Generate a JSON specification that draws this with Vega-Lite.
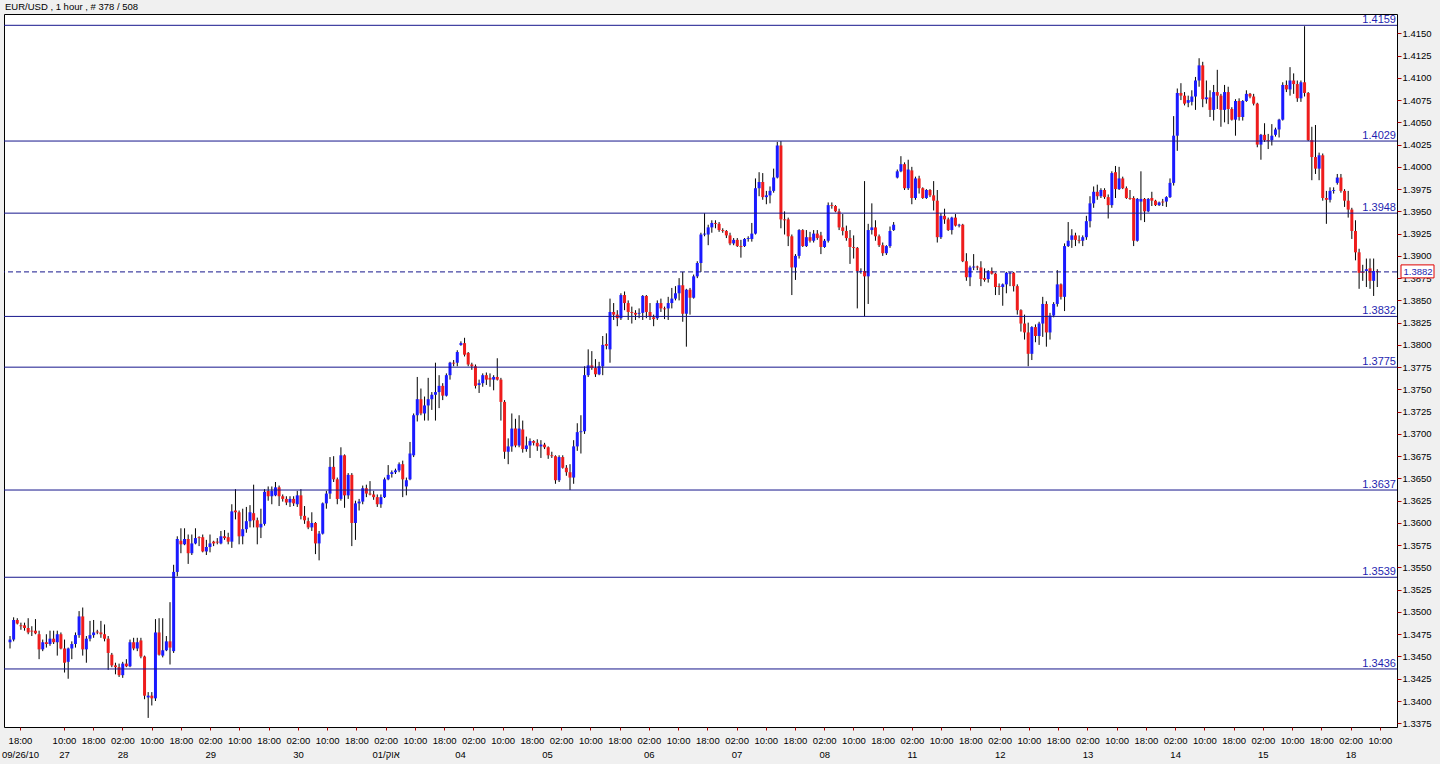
{
"$schema": "https://vega.github.io/schema/vega-lite/v6.json",
"width": 1393, "height": 713,
"autosize": {"type": "none"},
"padding": {"left": 4, "top": 14, "right": 43, "bottom": 37},
"background": "#f0f0f0",
"config": {"view": {"fill": "white", "stroke": "black", "strokeWidth": 1}, "font": "Liberation Sans"},
"resolve": {"axis": {"x": "independent", "y": "independent"}},
"datasets": {
"header": [{"title": "EUR/USD , 1 hour , # 378 / 508"}],
"levels": [{"level":1.4159,"label":"1.4159"},{"level":1.4029,"label":"1.4029"},{"level":1.3948,"label":"1.3948"},{"level":1.3832,"label":"1.3832"},{"level":1.3775,"label":"1.3775"},{"level":1.3637,"label":"1.3637"},{"level":1.3539,"label":"1.3539"},{"level":1.3436,"label":"1.3436"}],
"current": [{"p":1.3882}],
"candles": [
{"i":0,"o":1.3466,"h":1.3473,"l":1.3459,"c":1.3469},
{"i":1,"o":1.3469,"h":1.3494,"l":1.3467,"c":1.3491},
{"i":2,"o":1.3491,"h":1.3493,"l":1.3486,"c":1.3487},
{"i":3,"o":1.3485,"h":1.3488,"l":1.3480,"c":1.3484},
{"i":4,"o":1.3485,"h":1.3488,"l":1.3479,"c":1.3482},
{"i":5,"o":1.3482,"h":1.3493,"l":1.3475,"c":1.3477},
{"i":6,"o":1.3479,"h":1.3484,"l":1.3473,"c":1.3478},
{"i":7,"o":1.3479,"h":1.3492,"l":1.3475,"c":1.3476},
{"i":8,"o":1.3475,"h":1.3479,"l":1.3447,"c":1.3458},
{"i":9,"o":1.3458,"h":1.3469,"l":1.3456,"c":1.3466},
{"i":10,"o":1.3466,"h":1.3475,"l":1.3460,"c":1.3464},
{"i":11,"o":1.3464,"h":1.3479,"l":1.3462,"c":1.3470},
{"i":12,"o":1.3470,"h":1.3479,"l":1.3464,"c":1.3466},
{"i":13,"o":1.3466,"h":1.3479,"l":1.3451,"c":1.3475},
{"i":14,"o":1.3475,"h":1.3477,"l":1.3458,"c":1.3459},
{"i":15,"o":1.3459,"h":1.3469,"l":1.3432,"c":1.3443},
{"i":16,"o":1.3444,"h":1.3460,"l":1.3425,"c":1.3459},
{"i":17,"o":1.3459,"h":1.3467,"l":1.3447,"c":1.3464},
{"i":18,"o":1.3464,"h":1.3477,"l":1.3460,"c":1.3474},
{"i":19,"o":1.3474,"h":1.3501,"l":1.3471,"c":1.3495},
{"i":20,"o":1.3495,"h":1.3505,"l":1.3451,"c":1.3458},
{"i":21,"o":1.3458,"h":1.3473,"l":1.3443,"c":1.3470},
{"i":22,"o":1.3470,"h":1.3490,"l":1.3467,"c":1.3474},
{"i":23,"o":1.3474,"h":1.3491,"l":1.3471,"c":1.3477},
{"i":24,"o":1.3478,"h":1.3480,"l":1.3475,"c":1.3477},
{"i":25,"o":1.3477,"h":1.3490,"l":1.3471,"c":1.3475},
{"i":26,"o":1.3475,"h":1.3486,"l":1.3467,"c":1.3470},
{"i":27,"o":1.3470,"h":1.3473,"l":1.3435,"c":1.3454},
{"i":28,"o":1.3452,"h":1.3454,"l":1.3438,"c":1.3440},
{"i":29,"o":1.3440,"h":1.3443,"l":1.3430,"c":1.3438},
{"i":30,"o":1.3438,"h":1.3442,"l":1.3427,"c":1.3429},
{"i":31,"o":1.3429,"h":1.3444,"l":1.3426,"c":1.3442},
{"i":32,"o":1.3442,"h":1.3447,"l":1.3438,"c":1.3439},
{"i":33,"o":1.3439,"h":1.3469,"l":1.3438,"c":1.3466},
{"i":34,"o":1.3466,"h":1.3471,"l":1.3457,"c":1.3459},
{"i":35,"o":1.3459,"h":1.3471,"l":1.3456,"c":1.3466},
{"i":36,"o":1.3468,"h":1.3471,"l":1.3448,"c":1.3450},
{"i":37,"o":1.3450,"h":1.3451,"l":1.3402,"c":1.3406},
{"i":38,"o":1.3404,"h":1.3410,"l":1.3381,"c":1.3406},
{"i":39,"o":1.3406,"h":1.3410,"l":1.3395,"c":1.3403},
{"i":40,"o":1.3403,"h":1.3492,"l":1.3400,"c":1.3477},
{"i":41,"o":1.3477,"h":1.3493,"l":1.3451,"c":1.3452},
{"i":42,"o":1.3451,"h":1.3493,"l":1.3449,"c":1.3457},
{"i":43,"o":1.3457,"h":1.3473,"l":1.3456,"c":1.3467},
{"i":44,"o":1.3467,"h":1.3511,"l":1.3441,"c":1.3460},
{"i":45,"o":1.3456,"h":1.3553,"l":1.3454,"c":1.3545},
{"i":46,"o":1.3545,"h":1.3585,"l":1.3540,"c":1.3582},
{"i":47,"o":1.3580,"h":1.3594,"l":1.3566,"c":1.3576},
{"i":48,"o":1.3576,"h":1.3594,"l":1.3575,"c":1.3582},
{"i":49,"o":1.3582,"h":1.3587,"l":1.3554,"c":1.3566},
{"i":50,"o":1.3566,"h":1.3587,"l":1.3564,"c":1.3577},
{"i":51,"o":1.3577,"h":1.3594,"l":1.3576,"c":1.3583},
{"i":52,"o":1.3584,"h":1.3585,"l":1.3574,"c":1.3583},
{"i":53,"o":1.3584,"h":1.3587,"l":1.3567,"c":1.3568},
{"i":54,"o":1.3568,"h":1.3581,"l":1.3564,"c":1.3573},
{"i":55,"o":1.3573,"h":1.3587,"l":1.3567,"c":1.3577},
{"i":56,"o":1.3579,"h":1.3580,"l":1.3574,"c":1.3577},
{"i":57,"o":1.3579,"h":1.3583,"l":1.3576,"c":1.3578},
{"i":58,"o":1.3577,"h":1.3591,"l":1.3576,"c":1.3585},
{"i":59,"o":1.3585,"h":1.3592,"l":1.3581,"c":1.3583},
{"i":60,"o":1.3584,"h":1.3589,"l":1.3576,"c":1.3579},
{"i":61,"o":1.3579,"h":1.3621,"l":1.3572,"c":1.3613},
{"i":62,"o":1.3614,"h":1.3638,"l":1.3604,"c":1.3612},
{"i":63,"o":1.3612,"h":1.3614,"l":1.3576,"c":1.3585},
{"i":64,"o":1.3585,"h":1.3616,"l":1.3576,"c":1.3593},
{"i":65,"o":1.3593,"h":1.3618,"l":1.3589,"c":1.3602},
{"i":66,"o":1.3602,"h":1.3620,"l":1.3595,"c":1.3612},
{"i":67,"o":1.3611,"h":1.3643,"l":1.3595,"c":1.3603},
{"i":68,"o":1.3603,"h":1.3606,"l":1.3576,"c":1.3595},
{"i":69,"o":1.3595,"h":1.3616,"l":1.3583,"c":1.3599},
{"i":70,"o":1.3599,"h":1.3638,"l":1.3597,"c":1.3635},
{"i":71,"o":1.3636,"h":1.3641,"l":1.3625,"c":1.3630},
{"i":72,"o":1.3630,"h":1.3641,"l":1.3621,"c":1.3636},
{"i":73,"o":1.3631,"h":1.3646,"l":1.3630,"c":1.3640},
{"i":74,"o":1.3640,"h":1.3642,"l":1.3619,"c":1.3630},
{"i":75,"o":1.3630,"h":1.3632,"l":1.3624,"c":1.3627},
{"i":76,"o":1.3627,"h":1.3630,"l":1.3620,"c":1.3623},
{"i":77,"o":1.3623,"h":1.3630,"l":1.3618,"c":1.3627},
{"i":78,"o":1.3627,"h":1.3630,"l":1.3619,"c":1.3622},
{"i":79,"o":1.3621,"h":1.3636,"l":1.3618,"c":1.3631},
{"i":80,"o":1.3631,"h":1.3638,"l":1.3604,"c":1.3608},
{"i":81,"o":1.3608,"h":1.3619,"l":1.3599,"c":1.3603},
{"i":82,"o":1.3602,"h":1.3606,"l":1.3593,"c":1.3595},
{"i":83,"o":1.3595,"h":1.3612,"l":1.3591,"c":1.3600},
{"i":84,"o":1.3600,"h":1.3601,"l":1.3565,"c":1.3577},
{"i":85,"o":1.3577,"h":1.3591,"l":1.3558,"c":1.3588},
{"i":86,"o":1.3588,"h":1.3623,"l":1.3587,"c":1.3622},
{"i":87,"o":1.3622,"h":1.3636,"l":1.3616,"c":1.3633},
{"i":88,"o":1.3633,"h":1.3674,"l":1.3627,"c":1.3663},
{"i":89,"o":1.3663,"h":1.3675,"l":1.3646,"c":1.3649},
{"i":90,"o":1.3649,"h":1.3651,"l":1.3621,"c":1.3627},
{"i":91,"o":1.3627,"h":1.3685,"l":1.3625,"c":1.3676},
{"i":92,"o":1.3676,"h":1.3677,"l":1.3617,"c":1.3631},
{"i":93,"o":1.3631,"h":1.3656,"l":1.3627,"c":1.3654},
{"i":94,"o":1.3654,"h":1.3656,"l":1.3574,"c":1.3600},
{"i":95,"o":1.3600,"h":1.3625,"l":1.3581,"c":1.3622},
{"i":96,"o":1.3622,"h":1.3627,"l":1.3614,"c":1.3624},
{"i":97,"o":1.3624,"h":1.3642,"l":1.3621,"c":1.3639},
{"i":98,"o":1.3639,"h":1.3643,"l":1.3629,"c":1.3633},
{"i":99,"o":1.3633,"h":1.3647,"l":1.3631,"c":1.3632},
{"i":100,"o":1.3632,"h":1.3636,"l":1.3626,"c":1.3629},
{"i":101,"o":1.3629,"h":1.3632,"l":1.3618,"c":1.3621},
{"i":102,"o":1.3621,"h":1.3632,"l":1.3617,"c":1.3629},
{"i":103,"o":1.3629,"h":1.3651,"l":1.3628,"c":1.3649},
{"i":104,"o":1.3649,"h":1.3665,"l":1.3648,"c":1.3654},
{"i":105,"o":1.3655,"h":1.3659,"l":1.3651,"c":1.3657},
{"i":106,"o":1.3657,"h":1.3661,"l":1.3655,"c":1.3659},
{"i":107,"o":1.3659,"h":1.3668,"l":1.3657,"c":1.3666},
{"i":108,"o":1.3666,"h":1.3670,"l":1.3629,"c":1.3649},
{"i":109,"o":1.3641,"h":1.3651,"l":1.3631,"c":1.3648},
{"i":110,"o":1.3649,"h":1.3691,"l":1.3648,"c":1.3678},
{"i":111,"o":1.3676,"h":1.3723,"l":1.3674,"c":1.3721},
{"i":112,"o":1.3721,"h":1.3764,"l":1.3714,"c":1.3739},
{"i":113,"o":1.3739,"h":1.3751,"l":1.3721,"c":1.3723},
{"i":114,"o":1.3723,"h":1.3742,"l":1.3715,"c":1.3732},
{"i":115,"o":1.3732,"h":1.3763,"l":1.3715,"c":1.3739},
{"i":116,"o":1.3739,"h":1.3747,"l":1.3727,"c":1.3744},
{"i":117,"o":1.3744,"h":1.3780,"l":1.3715,"c":1.3747},
{"i":118,"o":1.3747,"h":1.3766,"l":1.3729,"c":1.3754},
{"i":119,"o":1.3754,"h":1.3757,"l":1.3738,"c":1.3743},
{"i":120,"o":1.3743,"h":1.3768,"l":1.3742,"c":1.3766},
{"i":121,"o":1.3766,"h":1.3781,"l":1.3761,"c":1.3780},
{"i":122,"o":1.3780,"h":1.3783,"l":1.3776,"c":1.3779},
{"i":123,"o":1.3780,"h":1.3794,"l":1.3776,"c":1.3792},
{"i":124,"o":1.3800,"h":1.3804,"l":1.3799,"c":1.3802},
{"i":125,"o":1.3802,"h":1.3808,"l":1.3787,"c":1.3789},
{"i":126,"o":1.3791,"h":1.3792,"l":1.3776,"c":1.3778},
{"i":127,"o":1.3778,"h":1.3780,"l":1.3772,"c":1.3776},
{"i":128,"o":1.3776,"h":1.3778,"l":1.3751,"c":1.3754},
{"i":129,"o":1.3755,"h":1.3761,"l":1.3746,"c":1.3757},
{"i":130,"o":1.3757,"h":1.3768,"l":1.3753,"c":1.3766},
{"i":131,"o":1.3766,"h":1.3769,"l":1.3755,"c":1.3761},
{"i":132,"o":1.3763,"h":1.3768,"l":1.3753,"c":1.3761},
{"i":133,"o":1.3761,"h":1.3766,"l":1.3749,"c":1.3764},
{"i":134,"o":1.3764,"h":1.3785,"l":1.3760,"c":1.3761},
{"i":135,"o":1.3761,"h":1.3763,"l":1.3715,"c":1.3736},
{"i":136,"o":1.3736,"h":1.3738,"l":1.3672,"c":1.3680},
{"i":137,"o":1.3680,"h":1.3695,"l":1.3666,"c":1.3686},
{"i":138,"o":1.3686,"h":1.3723,"l":1.3680,"c":1.3706},
{"i":139,"o":1.3706,"h":1.3717,"l":1.3685,"c":1.3687},
{"i":140,"o":1.3687,"h":1.3721,"l":1.3685,"c":1.3706},
{"i":141,"o":1.3705,"h":1.3715,"l":1.3679,"c":1.3683},
{"i":142,"o":1.3683,"h":1.3697,"l":1.3680,"c":1.3687},
{"i":143,"o":1.3687,"h":1.3695,"l":1.3673,"c":1.3692},
{"i":144,"o":1.3692,"h":1.3693,"l":1.3687,"c":1.3690},
{"i":145,"o":1.3690,"h":1.3694,"l":1.3681,"c":1.3686},
{"i":146,"o":1.3686,"h":1.3693,"l":1.3673,"c":1.3688},
{"i":147,"o":1.3688,"h":1.3690,"l":1.3683,"c":1.3685},
{"i":148,"o":1.3685,"h":1.3686,"l":1.3672,"c":1.3676},
{"i":149,"o":1.3676,"h":1.3680,"l":1.3673,"c":1.3675},
{"i":150,"o":1.3675,"h":1.3676,"l":1.3644,"c":1.3648},
{"i":151,"o":1.3648,"h":1.3676,"l":1.3646,"c":1.3674},
{"i":152,"o":1.3674,"h":1.3676,"l":1.3661,"c":1.3662},
{"i":153,"o":1.3662,"h":1.3665,"l":1.3653,"c":1.3657},
{"i":154,"o":1.3657,"h":1.3666,"l":1.3637,"c":1.3651},
{"i":155,"o":1.3651,"h":1.3693,"l":1.3644,"c":1.3686},
{"i":156,"o":1.3686,"h":1.3712,"l":1.3681,"c":1.3702},
{"i":157,"o":1.3702,"h":1.3721,"l":1.3678,"c":1.3703},
{"i":158,"o":1.3703,"h":1.3776,"l":1.3700,"c":1.3766},
{"i":159,"o":1.3766,"h":1.3795,"l":1.3764,"c":1.3777},
{"i":160,"o":1.3777,"h":1.3793,"l":1.3772,"c":1.3774},
{"i":161,"o":1.3774,"h":1.3784,"l":1.3764,"c":1.3767},
{"i":162,"o":1.3767,"h":1.3781,"l":1.3766,"c":1.3776},
{"i":163,"o":1.3776,"h":1.3810,"l":1.3766,"c":1.3800},
{"i":164,"o":1.3801,"h":1.3813,"l":1.3795,"c":1.3799},
{"i":165,"o":1.3795,"h":1.3852,"l":1.3780,"c":1.3837},
{"i":166,"o":1.3837,"h":1.3847,"l":1.3828,"c":1.3834},
{"i":167,"o":1.3834,"h":1.3839,"l":1.3821,"c":1.3830},
{"i":168,"o":1.3830,"h":1.3858,"l":1.3828,"c":1.3856},
{"i":169,"o":1.3856,"h":1.3860,"l":1.3839,"c":1.3847},
{"i":170,"o":1.3847,"h":1.3850,"l":1.3828,"c":1.3837},
{"i":171,"o":1.3837,"h":1.3843,"l":1.3824,"c":1.3836},
{"i":172,"o":1.3836,"h":1.3839,"l":1.3828,"c":1.3834},
{"i":173,"o":1.3835,"h":1.3841,"l":1.3830,"c":1.3836},
{"i":174,"o":1.3836,"h":1.3856,"l":1.3828,"c":1.3855},
{"i":175,"o":1.3855,"h":1.3856,"l":1.3830,"c":1.3837},
{"i":176,"o":1.3837,"h":1.3847,"l":1.3828,"c":1.3832},
{"i":177,"o":1.3831,"h":1.3834,"l":1.3821,"c":1.3829},
{"i":178,"o":1.3830,"h":1.3850,"l":1.3828,"c":1.3847},
{"i":179,"o":1.3847,"h":1.3852,"l":1.3837,"c":1.3841},
{"i":180,"o":1.3841,"h":1.3843,"l":1.3829,"c":1.3840},
{"i":181,"o":1.3841,"h":1.3854,"l":1.3828,"c":1.3847},
{"i":182,"o":1.3847,"h":1.3864,"l":1.3841,"c":1.3852},
{"i":183,"o":1.3852,"h":1.3866,"l":1.3850,"c":1.3858},
{"i":184,"o":1.3858,"h":1.3875,"l":1.3850,"c":1.3867},
{"i":185,"o":1.3867,"h":1.3882,"l":1.3826,"c":1.3835},
{"i":186,"o":1.3835,"h":1.3863,"l":1.3798,"c":1.3862},
{"i":187,"o":1.3862,"h":1.3864,"l":1.3834,"c":1.3853},
{"i":188,"o":1.3853,"h":1.3879,"l":1.3852,"c":1.3877},
{"i":189,"o":1.3877,"h":1.3894,"l":1.3875,"c":1.3892},
{"i":190,"o":1.3892,"h":1.3926,"l":1.3882,"c":1.3924},
{"i":191,"o":1.3924,"h":1.3948,"l":1.3922,"c":1.3925},
{"i":192,"o":1.3924,"h":1.3935,"l":1.3912,"c":1.3932},
{"i":193,"o":1.3932,"h":1.3940,"l":1.3926,"c":1.3937},
{"i":194,"o":1.3937,"h":1.3940,"l":1.3931,"c":1.3936},
{"i":195,"o":1.3936,"h":1.3938,"l":1.3927,"c":1.3929},
{"i":196,"o":1.3929,"h":1.3931,"l":1.3926,"c":1.3928},
{"i":197,"o":1.3928,"h":1.3929,"l":1.3920,"c":1.3923},
{"i":198,"o":1.3923,"h":1.3926,"l":1.3912,"c":1.3914},
{"i":199,"o":1.3914,"h":1.3920,"l":1.3912,"c":1.3918},
{"i":200,"o":1.3918,"h":1.3920,"l":1.3910,"c":1.3911},
{"i":201,"o":1.3911,"h":1.3918,"l":1.3898,"c":1.3910},
{"i":202,"o":1.3911,"h":1.3920,"l":1.3910,"c":1.3919},
{"i":203,"o":1.3919,"h":1.3922,"l":1.3916,"c":1.3920},
{"i":204,"o":1.3919,"h":1.3937,"l":1.3916,"c":1.3925},
{"i":205,"o":1.3925,"h":1.3987,"l":1.3924,"c":1.3976},
{"i":206,"o":1.3976,"h":1.3994,"l":1.3967,"c":1.3983},
{"i":207,"o":1.3983,"h":1.3993,"l":1.3963,"c":1.3966},
{"i":208,"o":1.3966,"h":1.3973,"l":1.3958,"c":1.3968},
{"i":209,"o":1.3968,"h":1.3978,"l":1.3959,"c":1.3973},
{"i":210,"o":1.3973,"h":1.3998,"l":1.3971,"c":1.3988},
{"i":211,"o":1.3988,"h":1.4028,"l":1.3987,"c":1.4024},
{"i":212,"o":1.4024,"h":1.4029,"l":1.3931,"c":1.3941},
{"i":213,"o":1.3941,"h":1.3950,"l":1.3924,"c":1.3940},
{"i":214,"o":1.3941,"h":1.3943,"l":1.3911,"c":1.3922},
{"i":215,"o":1.3922,"h":1.3924,"l":1.3856,"c":1.3887},
{"i":216,"o":1.3887,"h":1.3902,"l":1.3873,"c":1.3900},
{"i":217,"o":1.3900,"h":1.3930,"l":1.3897,"c":1.3929},
{"i":218,"o":1.3929,"h":1.3930,"l":1.3910,"c":1.3911},
{"i":219,"o":1.3911,"h":1.3929,"l":1.3910,"c":1.3921},
{"i":220,"o":1.3921,"h":1.3927,"l":1.3915,"c":1.3917},
{"i":221,"o":1.3917,"h":1.3929,"l":1.3915,"c":1.3925},
{"i":222,"o":1.3925,"h":1.3929,"l":1.3918,"c":1.3920},
{"i":223,"o":1.3923,"h":1.3927,"l":1.3902,"c":1.3910},
{"i":224,"o":1.3910,"h":1.3919,"l":1.3909,"c":1.3917},
{"i":225,"o":1.3917,"h":1.3960,"l":1.3915,"c":1.3957},
{"i":226,"o":1.3957,"h":1.3960,"l":1.3953,"c":1.3956},
{"i":227,"o":1.3956,"h":1.3957,"l":1.3949,"c":1.3950},
{"i":228,"o":1.3950,"h":1.3953,"l":1.3929,"c":1.3932},
{"i":229,"o":1.3932,"h":1.3947,"l":1.3923,"c":1.3928},
{"i":230,"o":1.3928,"h":1.3934,"l":1.3917,"c":1.3920},
{"i":231,"o":1.3920,"h":1.3929,"l":1.3891,"c":1.3910},
{"i":232,"o":1.3910,"h":1.3923,"l":1.3897,"c":1.3909},
{"i":233,"o":1.3909,"h":1.3910,"l":1.3841,"c":1.3883},
{"i":234,"o":1.3882,"h":1.3886,"l":1.3880,"c":1.3883},
{"i":235,"o":1.3883,"h":1.3984,"l":1.3832,"c":1.3877},
{"i":236,"o":1.3877,"h":1.3936,"l":1.3846,"c":1.3929},
{"i":237,"o":1.3929,"h":1.3959,"l":1.3924,"c":1.3932},
{"i":238,"o":1.3932,"h":1.3940,"l":1.3917,"c":1.3922},
{"i":239,"o":1.3922,"h":1.3924,"l":1.3910,"c":1.3912},
{"i":240,"o":1.3912,"h":1.3915,"l":1.3900,"c":1.3903},
{"i":241,"o":1.3903,"h":1.3912,"l":1.3901,"c":1.3911},
{"i":242,"o":1.3911,"h":1.3933,"l":1.3909,"c":1.3928},
{"i":243,"o":1.3929,"h":1.3938,"l":1.3928,"c":1.3935},
{"i":244,"o":1.3988,"h":1.3997,"l":1.3987,"c":1.3995},
{"i":245,"o":1.3995,"h":1.4012,"l":1.3994,"c":1.4003},
{"i":246,"o":1.4003,"h":1.4005,"l":1.3974,"c":1.3976},
{"i":247,"o":1.3976,"h":1.4008,"l":1.3974,"c":1.3997},
{"i":248,"o":1.3996,"h":1.4000,"l":1.3958,"c":1.3965},
{"i":249,"o":1.3965,"h":1.3989,"l":1.3963,"c":1.3987},
{"i":250,"o":1.3987,"h":1.3990,"l":1.3970,"c":1.3976},
{"i":251,"o":1.3976,"h":1.3977,"l":1.3964,"c":1.3965},
{"i":252,"o":1.3965,"h":1.3975,"l":1.3964,"c":1.3974},
{"i":253,"o":1.3974,"h":1.3975,"l":1.3966,"c":1.3968},
{"i":254,"o":1.3968,"h":1.3984,"l":1.3951,"c":1.3962},
{"i":255,"o":1.3962,"h":1.3974,"l":1.3915,"c":1.3921},
{"i":256,"o":1.3921,"h":1.3948,"l":1.3919,"c":1.3945},
{"i":257,"o":1.3945,"h":1.3953,"l":1.3936,"c":1.3941},
{"i":258,"o":1.3941,"h":1.3943,"l":1.3928,"c":1.3929},
{"i":259,"o":1.3929,"h":1.3944,"l":1.3924,"c":1.3943},
{"i":260,"o":1.3943,"h":1.3947,"l":1.3933,"c":1.3934},
{"i":261,"o":1.3934,"h":1.3936,"l":1.3932,"c":1.3935},
{"i":262,"o":1.3935,"h":1.3936,"l":1.3893,"c":1.3894},
{"i":263,"o":1.3894,"h":1.3903,"l":1.3872,"c":1.3876},
{"i":264,"o":1.3876,"h":1.3889,"l":1.3866,"c":1.3887},
{"i":265,"o":1.3887,"h":1.3902,"l":1.3884,"c":1.3888},
{"i":266,"o":1.3888,"h":1.3889,"l":1.3884,"c":1.3887},
{"i":267,"o":1.3887,"h":1.3894,"l":1.3866,"c":1.3874},
{"i":268,"o":1.3875,"h":1.3886,"l":1.3871,"c":1.3873},
{"i":269,"o":1.3874,"h":1.3884,"l":1.3870,"c":1.3883},
{"i":270,"o":1.3883,"h":1.3887,"l":1.3879,"c":1.3880},
{"i":271,"o":1.3880,"h":1.3881,"l":1.3856,"c":1.3865},
{"i":272,"o":1.3866,"h":1.3869,"l":1.3856,"c":1.3865},
{"i":273,"o":1.3865,"h":1.3869,"l":1.3844,"c":1.3868},
{"i":274,"o":1.3868,"h":1.3882,"l":1.3858,"c":1.3881},
{"i":275,"o":1.3880,"h":1.3882,"l":1.3866,"c":1.3881},
{"i":276,"o":1.3881,"h":1.3882,"l":1.3860,"c":1.3866},
{"i":277,"o":1.3866,"h":1.3868,"l":1.3834,"c":1.3839},
{"i":278,"o":1.3839,"h":1.3840,"l":1.3815,"c":1.3824},
{"i":279,"o":1.3824,"h":1.3834,"l":1.3806,"c":1.3814},
{"i":280,"o":1.3814,"h":1.3825,"l":1.3776,"c":1.3790},
{"i":281,"o":1.3790,"h":1.3821,"l":1.3783,"c":1.3820},
{"i":282,"o":1.3820,"h":1.3823,"l":1.3803,"c":1.3810},
{"i":283,"o":1.3810,"h":1.3826,"l":1.3800,"c":1.3824},
{"i":284,"o":1.3824,"h":1.3854,"l":1.3809,"c":1.3846},
{"i":285,"o":1.3846,"h":1.3849,"l":1.3798,"c":1.3814},
{"i":286,"o":1.3814,"h":1.3836,"l":1.3806,"c":1.3833},
{"i":287,"o":1.3833,"h":1.3848,"l":1.3831,"c":1.3846},
{"i":288,"o":1.3846,"h":1.3884,"l":1.3843,"c":1.3868},
{"i":289,"o":1.3868,"h":1.3869,"l":1.3851,"c":1.3854},
{"i":290,"o":1.3854,"h":1.3914,"l":1.3838,"c":1.3911},
{"i":291,"o":1.3911,"h":1.3938,"l":1.3910,"c":1.3917},
{"i":292,"o":1.3918,"h":1.3930,"l":1.3909,"c":1.3923},
{"i":293,"o":1.3923,"h":1.3926,"l":1.3911,"c":1.3918},
{"i":294,"o":1.3918,"h":1.3923,"l":1.3914,"c":1.3917},
{"i":295,"o":1.3917,"h":1.3923,"l":1.3911,"c":1.3921},
{"i":296,"o":1.3921,"h":1.3945,"l":1.3918,"c":1.3939},
{"i":297,"o":1.3939,"h":1.3967,"l":1.3932,"c":1.3959},
{"i":298,"o":1.3959,"h":1.3978,"l":1.3954,"c":1.3972},
{"i":299,"o":1.3972,"h":1.3980,"l":1.3963,"c":1.3967},
{"i":300,"o":1.3967,"h":1.3976,"l":1.3965,"c":1.3974},
{"i":301,"o":1.3974,"h":1.3976,"l":1.3964,"c":1.3966},
{"i":302,"o":1.3966,"h":1.3969,"l":1.3942,"c":1.3957},
{"i":303,"o":1.3957,"h":1.3995,"l":1.3954,"c":1.3993},
{"i":304,"o":1.3994,"h":1.4001,"l":1.3965,"c":1.3975},
{"i":305,"o":1.3975,"h":1.4000,"l":1.3974,"c":1.3987},
{"i":306,"o":1.3987,"h":1.3989,"l":1.3975,"c":1.3976},
{"i":307,"o":1.3976,"h":1.3978,"l":1.3964,"c":1.3965},
{"i":308,"o":1.3965,"h":1.3974,"l":1.3963,"c":1.3964},
{"i":309,"o":1.3965,"h":1.3967,"l":1.3911,"c":1.3917},
{"i":310,"o":1.3917,"h":1.3965,"l":1.3916,"c":1.3964},
{"i":311,"o":1.3961,"h":1.3995,"l":1.3940,"c":1.3964},
{"i":312,"o":1.3964,"h":1.3965,"l":1.3938,"c":1.3950},
{"i":313,"o":1.3950,"h":1.3965,"l":1.3949,"c":1.3964},
{"i":314,"o":1.3965,"h":1.3972,"l":1.3956,"c":1.3962},
{"i":315,"o":1.3962,"h":1.3963,"l":1.3956,"c":1.3957},
{"i":316,"o":1.3957,"h":1.3961,"l":1.3956,"c":1.3960},
{"i":317,"o":1.3961,"h":1.3964,"l":1.3956,"c":1.3960},
{"i":318,"o":1.3961,"h":1.3967,"l":1.3955,"c":1.3966},
{"i":319,"o":1.3966,"h":1.3987,"l":1.3965,"c":1.3982},
{"i":320,"o":1.3982,"h":1.4057,"l":1.3979,"c":1.4035},
{"i":321,"o":1.4035,"h":1.4088,"l":1.4018,"c":1.4083},
{"i":322,"o":1.4083,"h":1.4094,"l":1.4075,"c":1.4080},
{"i":323,"o":1.4080,"h":1.4084,"l":1.4069,"c":1.4071},
{"i":324,"o":1.4072,"h":1.4080,"l":1.4067,"c":1.4075},
{"i":325,"o":1.4073,"h":1.4086,"l":1.4069,"c":1.4079},
{"i":326,"o":1.4079,"h":1.4101,"l":1.4064,"c":1.4097},
{"i":327,"o":1.4097,"h":1.4122,"l":1.4090,"c":1.4114},
{"i":328,"o":1.4114,"h":1.4118,"l":1.4067,"c":1.4076},
{"i":329,"o":1.4076,"h":1.4097,"l":1.4071,"c":1.4078},
{"i":330,"o":1.4078,"h":1.4086,"l":1.4056,"c":1.4064},
{"i":331,"o":1.4064,"h":1.4092,"l":1.4052,"c":1.4084},
{"i":332,"o":1.4084,"h":1.4109,"l":1.4065,"c":1.4080},
{"i":333,"o":1.4080,"h":1.4082,"l":1.4045,"c":1.4064},
{"i":334,"o":1.4064,"h":1.4092,"l":1.4050,"c":1.4084},
{"i":335,"o":1.4084,"h":1.4090,"l":1.4048,"c":1.4065},
{"i":336,"o":1.4065,"h":1.4067,"l":1.4052,"c":1.4053},
{"i":337,"o":1.4053,"h":1.4076,"l":1.4035,"c":1.4074},
{"i":338,"o":1.4074,"h":1.4077,"l":1.4052,"c":1.4056},
{"i":339,"o":1.4056,"h":1.4075,"l":1.4052,"c":1.4074},
{"i":340,"o":1.4074,"h":1.4086,"l":1.4073,"c":1.4082},
{"i":341,"o":1.4082,"h":1.4083,"l":1.4077,"c":1.4079},
{"i":342,"o":1.4079,"h":1.4082,"l":1.4069,"c":1.4071},
{"i":343,"o":1.4071,"h":1.4072,"l":1.4022,"c":1.4025},
{"i":344,"o":1.4025,"h":1.4037,"l":1.4008,"c":1.4036},
{"i":345,"o":1.4036,"h":1.4049,"l":1.4028,"c":1.4030},
{"i":346,"o":1.4030,"h":1.4037,"l":1.4020,"c":1.4029},
{"i":347,"o":1.4030,"h":1.4048,"l":1.4024,"c":1.4035},
{"i":348,"o":1.4036,"h":1.4044,"l":1.4034,"c":1.4042},
{"i":349,"o":1.4042,"h":1.4054,"l":1.4033,"c":1.4053},
{"i":350,"o":1.4053,"h":1.4095,"l":1.4052,"c":1.4092},
{"i":351,"o":1.4092,"h":1.4097,"l":1.4084,"c":1.4087},
{"i":352,"o":1.4087,"h":1.4112,"l":1.4080,"c":1.4097},
{"i":353,"o":1.4097,"h":1.4105,"l":1.4082,"c":1.4093},
{"i":354,"o":1.4093,"h":1.4097,"l":1.4073,"c":1.4077},
{"i":355,"o":1.4077,"h":1.4097,"l":1.4073,"c":1.4095},
{"i":356,"o":1.4095,"h":1.4158,"l":1.4079,"c":1.4083},
{"i":357,"o":1.4083,"h":1.4084,"l":1.4029,"c":1.4030},
{"i":358,"o":1.4030,"h":1.4045,"l":1.3985,"c":1.4011},
{"i":359,"o":1.4011,"h":1.4047,"l":1.3992,"c":1.3998},
{"i":360,"o":1.3998,"h":1.4016,"l":1.3985,"c":1.4013},
{"i":361,"o":1.4013,"h":1.4015,"l":1.3962,"c":1.3965},
{"i":362,"o":1.3965,"h":1.3973,"l":1.3936,"c":1.3963},
{"i":363,"o":1.3963,"h":1.3977,"l":1.3960,"c":1.3973},
{"i":364,"o":1.3973,"h":1.3977,"l":1.3970,"c":1.3974},
{"i":365,"o":1.3982,"h":1.3992,"l":1.3980,"c":1.3988},
{"i":366,"o":1.3988,"h":1.3992,"l":1.3971,"c":1.3973},
{"i":367,"o":1.3973,"h":1.3975,"l":1.3955,"c":1.3962},
{"i":368,"o":1.3962,"h":1.3973,"l":1.3943,"c":1.3952},
{"i":369,"o":1.3952,"h":1.3954,"l":1.3919,"c":1.3928},
{"i":370,"o":1.3928,"h":1.3940,"l":1.3895,"c":1.3904},
{"i":371,"o":1.3904,"h":1.3908,"l":1.3863,"c":1.3881},
{"i":372,"o":1.3882,"h":1.3890,"l":1.3872,"c":1.3881},
{"i":373,"o":1.3883,"h":1.3897,"l":1.3865,"c":1.3885},
{"i":374,"o":1.3886,"h":1.3897,"l":1.3863,"c":1.3872},
{"i":375,"o":1.3872,"h":1.3897,"l":1.3855,"c":1.3883},
{"i":376,"o":1.3883,"h":1.3885,"l":1.3865,"c":1.3882}
]},
"layer": [
{"data": {"name": "candles"},
 "mark": {"type": "rule", "color": "black", "strokeWidth": 1},
 "encoding": {
  "x": {"field": "i", "type": "quantitative", "scale": {"domain": [-1.65, 381.42], "nice": false, "zero": false, "padding": 0},
   "axis": {"orient": "bottom", "title": null, "grid": false, "domain": false, "ticks": true, "tickColor": "#b00000", "tickSize": 3, "labelPadding": 5, "labelFontSize": 9.5, "labelColor": "black", "labelFont": "Liberation Sans", "labelOverlap": false, "labelFlush": false, "labelBound": false,
    "values": [2.75,14.85,22.891,30.932,38.973,47.014,55.055,63.096,71.137,79.178,87.219,95.26,103.301,111.342,119.383,127.424,135.465,143.506,151.547,159.588,167.629,175.67,183.711,191.752,199.793,207.834,215.875,223.916,231.957,239.998,248.039,256.08,264.121,272.162,280.203,288.244,296.285,304.326,312.367,320.408,328.449,336.49,344.531,352.572,360.613,368.654,376.695],
    "labelExpr": "datum.value < 5 ? '18:00' : (round((datum.value - 14.85) / 8.041) % 3 == 0 ? '10:00' : (round((datum.value - 14.85) / 8.041) % 3 == 1 ? '18:00' : '02:00'))"}},
  "y": {"field": "l", "type": "quantitative", "scale": {"domain": [1.33708, 1.41717], "nice": false, "zero": false, "padding": 0},
   "axis": {"orient": "right", "title": null, "grid": false, "domain": false, "ticks": true, "tickColor": "#b00000", "tickSize": 4, "labelPadding": 1, "labelFontSize": 9.5, "labelColor": "black", "labelFont": "Liberation Sans", "format": ".4f", "labelOverlap": false, "labelFlush": false, "labelBound": false,
    "values": [1.3375,1.34,1.3425,1.345,1.3475,1.35,1.3525,1.355,1.3575,1.36,1.3625,1.365,1.3675,1.37,1.3725,1.375,1.3775,1.38,1.3825,1.385,1.3875,1.39,1.3925,1.395,1.3975,1.4,1.4025,1.405,1.4075,1.41,1.4125,1.415]}},
  "y2": {"field": "h"}
 }},
{"data": {"name": "candles"},
 "mark": {"type": "bar", "size": 3},
 "encoding": {
  "x": {"field": "i", "type": "quantitative", "scale": {"domain": [-1.65, 381.42], "nice": false, "zero": false, "padding": 0},
   "axis": {"orient": "bottom", "title": null, "grid": false, "domain": false, "ticks": false, "tickSize": 0, "offset": 17, "labelPadding": 5, "labelFontSize": 9.5, "labelColor": "black", "labelFont": "Liberation Sans", "labelOverlap": false, "labelFlush": false, "labelBound": false,
    "values": [2.75,14.85,30.932,55.055,79.178,103.301,123.75,147.7,175.67,199.793,223.916,248.039,272.162,296.285,320.408,344.531,368.654],
    "labelExpr": "datum.value < 5 ? '09/26/10' : datum.value < 20 ? '27' : datum.value < 40 ? '28' : datum.value < 60 ? '29' : datum.value < 90 ? '30' : datum.value < 110 ? '01/אוק' : datum.value < 130 ? '04' : datum.value < 160 ? '05' : datum.value < 185 ? '06' : datum.value < 210 ? '07' : datum.value < 235 ? '08' : datum.value < 260 ? '11' : datum.value < 285 ? '12' : datum.value < 310 ? '13' : datum.value < 330 ? '14' : datum.value < 355 ? '15' : '18'"}},
  "y": {"field": "o", "type": "quantitative", "scale": {"domain": [1.33708, 1.41717], "nice": false, "zero": false, "padding": 0}, "axis": null},
  "y2": {"field": "c"},
  "color": {"condition": {"test": "datum.c >= datum.o", "value": "#1a1aff"}, "value": "#ee1c1c"}
 }},
{"data": {"name": "levels"},
 "mark": {"type": "rule", "color": "#16168c", "strokeWidth": 1},
 "encoding": {
  "y": {"field": "level", "type": "quantitative", "scale": {"domain": [1.33708, 1.41717], "nice": false, "zero": false, "padding": 0}, "axis": null}
 }},
{"data": {"name": "current"},
 "mark": {"type": "rule", "color": "#16168c", "strokeWidth": 1, "strokeDash": [5, 3]},
 "encoding": {
  "y": {"field": "p", "type": "quantitative", "scale": {"domain": [1.33708, 1.41717], "nice": false, "zero": false, "padding": 0}, "axis": null}
 }},
{"data": {"name": "levels"},
 "mark": {"type": "text", "align": "right", "baseline": "alphabetic", "dx": -1, "dy": -2, "fontSize": 11, "color": "#1f1fb0", "font": "Liberation Sans"},
 "encoding": {
  "x": {"datum": 381.42, "type": "quantitative", "scale": {"domain": [-1.65, 381.42], "nice": false, "zero": false, "padding": 0}, "axis": null},
  "y": {"field": "level", "type": "quantitative", "scale": {"domain": [1.33708, 1.41717], "nice": false, "zero": false, "padding": 0}, "axis": null},
  "text": {"field": "label"}
 }},
{"data": {"name": "current"},
 "mark": {"type": "rect", "fill": "white", "stroke": "#e00000", "strokeWidth": 1, "xOffset": 4, "x2Offset": 37, "yOffset": -7, "y2Offset": 6},
 "encoding": {
  "x": {"datum": 381.42, "type": "quantitative", "scale": {"domain": [-1.65, 381.42], "nice": false, "zero": false, "padding": 0}, "axis": null},
  "x2": {"datum": 381.42},
  "y": {"field": "p", "type": "quantitative", "scale": {"domain": [1.33708, 1.41717], "nice": false, "zero": false, "padding": 0}, "axis": null},
  "y2": {"field": "p"}
 }},
{"data": {"name": "current"},
 "mark": {"type": "text", "align": "center", "baseline": "middle", "dx": 21, "fontSize": 9.5, "color": "#1f1fb0", "font": "Liberation Sans"},
 "encoding": {
  "x": {"datum": 381.42, "type": "quantitative", "scale": {"domain": [-1.65, 381.42], "nice": false, "zero": false, "padding": 0}, "axis": null},
  "y": {"field": "p", "type": "quantitative", "scale": {"domain": [1.33708, 1.41717], "nice": false, "zero": false, "padding": 0}, "axis": null},
  "text": {"field": "p", "format": ".4f"}
 }},
{"data": {"name": "header"},
 "mark": {"type": "text", "align": "left", "baseline": "alphabetic", "dx": 1, "dy": -4, "fontSize": 9.5, "color": "black", "font": "Liberation Sans"},
 "encoding": {
  "x": {"datum": -1.65, "type": "quantitative", "scale": {"domain": [-1.65, 381.42], "nice": false, "zero": false, "padding": 0}, "axis": null},
  "y": {"datum": 1.41717, "type": "quantitative", "scale": {"domain": [1.33708, 1.41717], "nice": false, "zero": false, "padding": 0}, "axis": null},
  "text": {"field": "title"}
 }}
]
}
